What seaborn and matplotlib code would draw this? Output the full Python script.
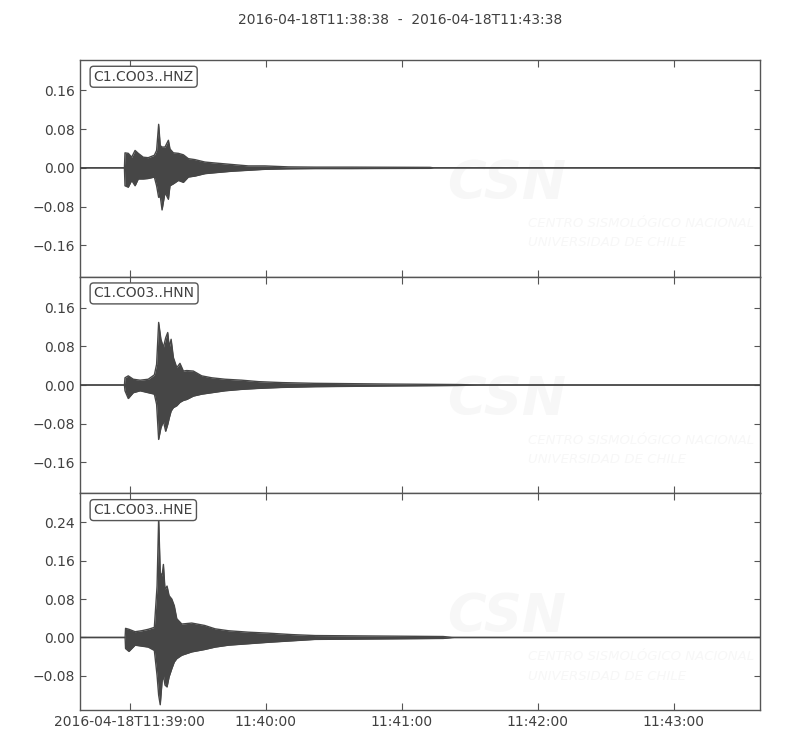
import numpy as np
import pandas as pd
import seaborn as sns
from matplotlib import pyplot as plt

# seconds after 2016-04-18T11:38:38
title = "2016-04-18T11:38:38  -  2016-04-18T11:43:38"
tick_secs = [22, 82, 142, 202, 262]
tick_labels = ["2016-04-18T11:39:00", "11:40:00", "11:41:00", "11:42:00", "11:43:00"]

channels = ["C1.CO03..HNZ", "C1.CO03..HNN", "C1.CO03..HNE"]

# envelope of each trace (time s, upper, lower)
hnz_t = [0, 19.6, 19.85, 21.3, 22.8, 24.3, 25.7, 27.9, 30.1, 32.8,
         33.8, 34.7, 35.4, 36.2, 37.5, 39.0, 39.7, 41.2, 43.4, 45.6,
         47.8, 50.7, 55.1, 59.6, 66.9, 74.3, 81.6, 91.9, 103.7, 119.1,
         154.4, 156, 300]
hnz_up = [0, 0, 0.031, 0.030, 0.022, 0.036, 0.030, 0.022, 0.021, 0.026,
          0.036, 0.090, 0.046, 0.043, 0.043, 0.057, 0.039, 0.031, 0.030, 0.027,
          0.019, 0.017, 0.012, 0.010, 0.007, 0.004, 0.004, 0.002, 0.0015, 0.0015,
          0.001, 0, 0]
hnz_lo = [0, 0, -0.037, -0.040, -0.026, -0.037, -0.023, -0.023, -0.022, -0.019,
          -0.037, -0.061, -0.058, -0.087, -0.051, -0.065, -0.037, -0.033, -0.026, -0.030,
          -0.019, -0.017, -0.012, -0.010, -0.007, -0.005, -0.003, -0.002, -0.0015, -0.0015,
          -0.001, 0, 0]

hnn_t = [0, 19.6, 19.85, 21.3, 23.5, 26.5, 30.1, 32.8, 33.8, 34.7,
         35.7, 36.8, 37.8, 38.7, 39.4, 40.2, 41.2, 42.7, 44.1, 45.6,
         47.1, 50.0, 53.7, 58.1, 64.0, 71.4, 78.8, 89.1, 103.7, 136.8,
         166.3, 176.5, 300]
hnn_up = [0, 0, 0.015, 0.019, 0.012, 0.010, 0.012, 0.021, 0.043, 0.130,
          0.095, 0.078, 0.098, 0.109, 0.078, 0.095, 0.057, 0.036, 0.045, 0.029,
          0.030, 0.029, 0.019, 0.015, 0.012, 0.010, 0.007, 0.005, 0.0035, 0.002,
          0.001, 0, 0]
hnn_lo = [0, 0, -0.012, -0.028, -0.016, -0.012, -0.016, -0.019, -0.040, -0.113,
          -0.089, -0.075, -0.096, -0.082, -0.068, -0.054, -0.047, -0.043, -0.036, -0.032,
          -0.030, -0.023, -0.019, -0.016, -0.012, -0.009, -0.007, -0.005, -0.0035, -0.002,
          -0.001, 0, 0]

hne_t = [0, 19.9, 20.1, 21.6, 24.3, 27.2, 30.1, 32.8, 34.0, 34.7,
         35.4, 36.2, 36.8, 37.5, 38.4, 39.3, 40.5, 41.6, 42.7, 44.9,
         49.3, 55.0, 59.6, 65.5, 74.3, 83.1, 93.4, 103.7, 160.2, 165,
         300]
hne_up = [0, 0, 0.019, 0.017, 0.012, 0.014, 0.017, 0.021, 0.107, 0.249,
          0.135, 0.128, 0.152, 0.100, 0.107, 0.087, 0.080, 0.066, 0.039, 0.028,
          0.030, 0.025, 0.018, 0.014, 0.011, 0.009, 0.006, 0.004, 0.002, 0,
          0]
hne_lo = [0, 0, -0.023, -0.029, -0.016, -0.018, -0.020, -0.027, -0.079, -0.120,
          -0.140, -0.092, -0.079, -0.099, -0.103, -0.082, -0.065, -0.051, -0.044, -0.037,
          -0.030, -0.025, -0.020, -0.016, -0.013, -0.010, -0.007, -0.004, -0.002, 0,
          0]

yticks_small = [-0.16, -0.08, 0.00, 0.08, 0.16]
yticks_e = [-0.08, 0.00, 0.08, 0.16, 0.24]
ylims = [(-0.225, 0.223), (-0.225, 0.225), (-0.151, 0.300)]

#%%
sns.set_style("ticks")
plt.rcParams.update({
    "xtick.direction": "in", "ytick.direction": "in",
    "xtick.top": True, "ytick.right": True,
    "xtick.major.size": 5, "ytick.major.size": 4,
    "xtick.color": "#555555", "ytick.color": "#555555",
    "xtick.labelcolor": "#404040", "ytick.labelcolor": "#404040",
    "axes.edgecolor": "#555555", "axes.linewidth": 1.0,
    "font.size": 10,
})
plt.rcParams['font.family'] = ['DejaVu Sans']

trace_color = "#464646"
traces = [(hnz_t, hnz_up, hnz_lo), (hnn_t, hnn_up, hnn_lo), (hne_t, hne_up, hne_lo)]
yticks = [yticks_small, yticks_small, yticks_e]

fig = plt.figure(figsize=(8, 7.5), dpi=100)
axes = fig.subplots(3, 1, sharex=True)
fig.subplots_adjust(left=0.1, right=0.95, top=0.92, bottom=0.0533, hspace=0)

for i, ax in enumerate(axes):
    t, up, lo = traces[i]
    df = pd.DataFrame({"t": t, "up": up, "lo": lo})
    ax.fill_between(df.t, df.lo, df.up, color=trace_color, lw=0, zorder=2)
    sns.lineplot(data=df, x="t", y="up", ax=ax, color=trace_color, lw=1.0, zorder=3)
    sns.lineplot(data=df, x="t", y="lo", ax=ax, color=trace_color, lw=1.0, zorder=3)

    # faint CSN watermark
    wm = "#f7f7f7"
    ax.text(0.627, 0.43, "CSN", transform=ax.transAxes, fontsize=38, fontweight="bold",
            style="italic", color=wm, ha="center", va="center", zorder=0.5)
    ax.text(0.659, 0.245, "CENTRO SISMOLÓGICO NACIONAL", transform=ax.transAxes,
            fontsize=9.5, style="italic", color=wm, ha="left", va="center", zorder=0.5)
    ax.text(0.659, 0.157, "UNIVERSIDAD DE CHILE", transform=ax.transAxes,
            fontsize=9.5, style="italic", color=wm, ha="left", va="center", zorder=0.5)

    ax.set_xlim(0, 300)
    ax.set_ylim(*ylims[i])
    ax.set_yticks(yticks[i])
    ax.set_yticklabels(["%.2f" % v if v >= 0 else "\u2212%.2f" % -v for v in yticks[i]])
    ax.set_xticks(tick_secs)
    ax.set_xlabel("")
    ax.set_ylabel("")
    for s in ax.spines.values():
        s.set_visible(True)

    ax.text(0.02, 0.955, channels[i], transform=ax.transAxes, ha="left", va="top",
            fontsize=10, color="#404040", zorder=5,
            bbox=dict(boxstyle="round,pad=0.25", fc="white", ec="#555555", lw=1))

axes[-1].set_xticklabels(tick_labels)
fig.suptitle(title, y=0.982, fontsize=10, color="#404040")

fig.savefig("out.png", dpi=100)
